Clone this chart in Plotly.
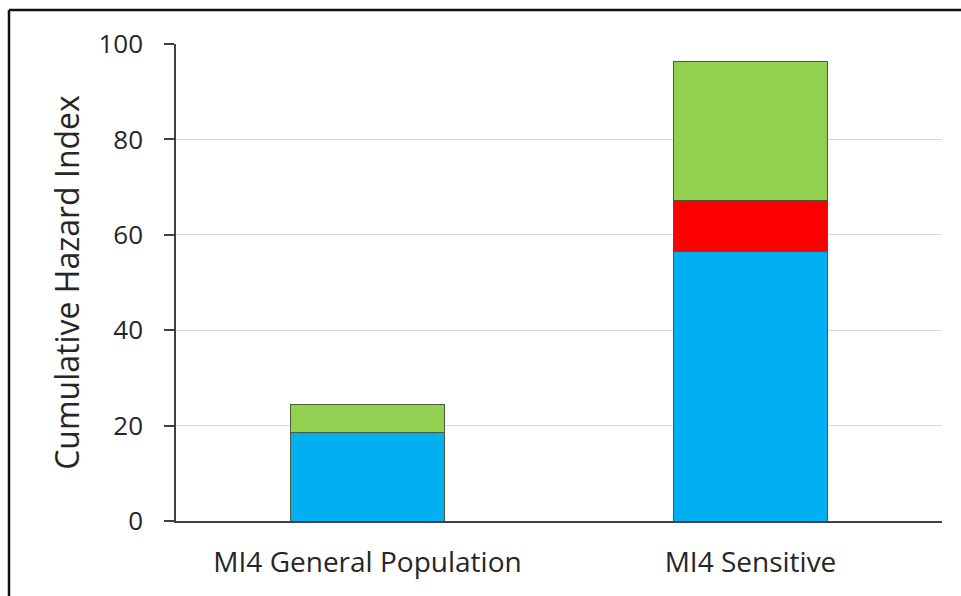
import plotly.graph_objects as go

# Cumulative hazard index contributions per scenario
categories = ["MI4 General Population", "MI4 Sensitive"]
blue_values = [18.5, 56.6]
red_values = [0.0, 10.5]
green_values = [6.0, 29.2]

series = [
    ("Component 1", blue_values, "#00B0F0"),
    ("Component 2", red_values, "#FF0000"),
    ("Component 3", green_values, "#92D050"),
]

fig = go.Figure()
for name, vals, color in series:
    fig.add_trace(go.Bar(
        x=categories, y=vals, name=name,
        marker=dict(color=color, line=dict(color="#4a5a3a", width=1)),
    ))

fig.update_layout(
    barmode="stack",
    bargap=0.6,
    width=961, height=596,
    margin=dict(l=176, r=19, t=44, b=75),
    paper_bgcolor="white",
    plot_bgcolor="white",
    showlegend=False,
    font=dict(family="Open Sans, sans-serif", color="#262626"),
    xaxis=dict(
        showline=True, linecolor="#404040", linewidth=1.5,
        showgrid=False, ticks="",
        tickfont=dict(size=28, color="#262626"),
        ticklabelstandoff=16,
    ),
    yaxis=dict(
        range=[0, 100], tickvals=[0, 20, 40, 60, 80, 100],
        showline=True, linecolor="#404040", linewidth=1.5,
        ticks="outside", ticklen=10, tickcolor="#404040", tickwidth=1.5,
        showgrid=True, gridcolor="#d9d9d9", gridwidth=1,
        zeroline=False,
        tickfont=dict(size=26, color="#262626"),
        ticklabelstandoff=16,
        title=dict(text="Cumulative Hazard Index", font=dict(size=32, color="#262626"), standoff=9),
    ),
    shapes=[
        dict(type="line", xref="paper", yref="paper",
             x0=(9 - 176) / 766, x1=1.1, y0=(521 - 10) / 477, y1=(521 - 10) / 477,
             line=dict(color="#111111", width=2.5)),
        dict(type="line", xref="paper", yref="paper",
             x0=(9 - 176) / 766, x1=(9 - 176) / 766, y0=(521 - 10) / 477, y1=-0.3,
             line=dict(color="#111111", width=2.5)),
    ],
)

fig.write_html("out.html")
